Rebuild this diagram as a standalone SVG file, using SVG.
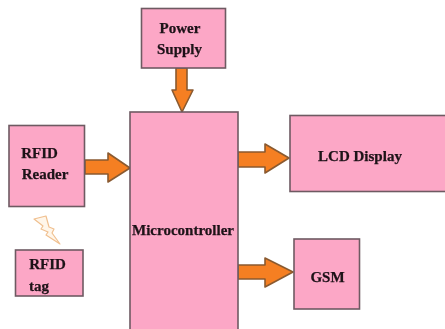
<svg xmlns="http://www.w3.org/2000/svg" width="445" height="329" viewBox="0 0 445 329">
<defs><filter id="soft" x="-5%" y="-5%" width="110%" height="110%"><feGaussianBlur stdDeviation="0.45"/></filter></defs>
<style>
.n{fill:#fca7c6;stroke:#6e5a62;stroke-width:1.6}
.t{font-family:"Liberation Serif",serif;font-weight:bold;font-size:15px;fill:#1e1219;stroke:#1e1219;stroke-width:0.25;text-anchor:middle}
.a{fill:#f57f20;stroke:#8a5a30;stroke-width:1.6;stroke-linejoin:round}
</style>
<rect width="445" height="329" fill="#fff"/>
<g filter="url(#soft)">
<g id="connectors">
<path class="a" d="M85 160H108V153L130 168L108 182V174H85Z"/>
<path class="a" d="M238 152H265V144L289 158L265 173V167H238Z"/>
<path class="a" d="M238 265H265V258L293 272L265 287V279H238Z"/>
<path class="a" d="M176 68H187V90H193L182 112L172 90H176Z"/>
<path fill="#fff6ea" stroke="#f0c090" stroke-width="1.2" stroke-linejoin="round" d="M34 219L46 216L49 227L54 229L52 233L60 244L46 235L48 232L41 229L43 226Z"/>
</g>
<g id="power-supply"><rect class="n" x="141.500" y="8.500" width="84" height="59.500"/><text class="t" x="180" y="33">Power</text><text class="t" x="179.500" y="54">Supply</text></g>
<g id="rfid-reader"><rect class="n" x="9" y="125.500" width="75.500" height="81"/><text class="t" x="39.500" y="158">RFID</text><text class="t" x="45" y="179">Reader</text></g>
<g id="rfid-tag"><rect class="n" x="15.500" y="250" width="67.500" height="46"/><text class="t" x="47.500" y="269">RFID</text><text class="t" x="39" y="291">tag</text></g>
<g id="microcontroller"><rect class="n" x="130" y="112" width="108" height="218"/><text class="t" x="183" y="235">Microcontroller</text></g>
<g id="lcd-display"><rect class="n" x="290" y="115.500" width="160" height="76"/><text class="t" x="360" y="161">LCD Display</text></g>
<g id="gsm"><rect class="n" x="294" y="239" width="65.500" height="70"/><text class="t" x="327.500" y="282">GSM</text></g>
</g>
</svg>
